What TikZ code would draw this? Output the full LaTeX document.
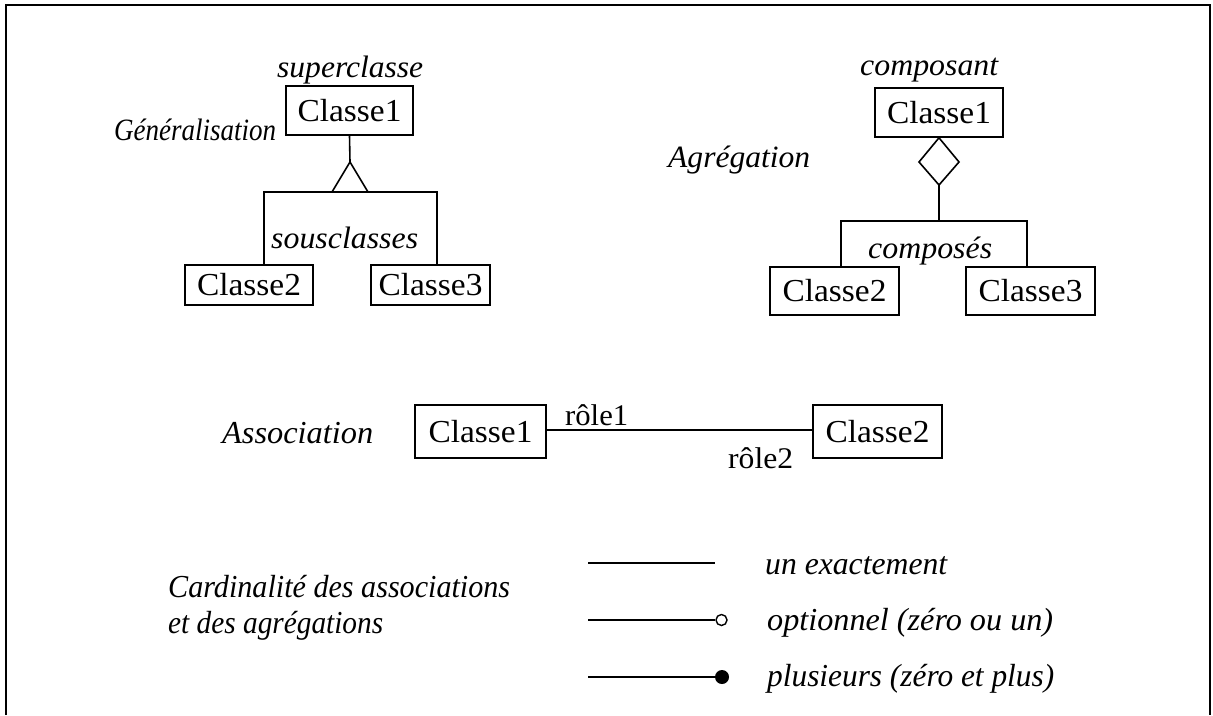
\documentclass[tikz,border=0pt]{standalone}
\usepackage{fontspec}
\setmainfont{Liberation Serif}
\usetikzlibrary{shapes.geometric}
\newcommand{\wid}[2]{\resizebox{#1pt}{\height}{#2}}
\begin{document}
\begin{tikzpicture}[x=1pt,y=-1pt,
  cls/.style={draw,line width=1.6pt,rectangle,inner sep=0pt,font=\fontsize{32}{36}\selectfont},
  lbl/.style={inner sep=0pt,font=\fontsize{31}{36}\selectfont\itshape},
  big/.style={inner sep=0pt,font=\fontsize{32}{36}\selectfont\itshape},
  up/.style={inner sep=0pt,font=\fontsize{30}{36}\selectfont},
  conn/.style={line width=1.6pt}]
\useasboundingbox (0,0) rectangle (1213,715);
\draw[line width=2.6pt] (6,715) -- (6,5) -- (1210,5) -- (1210,715);

% Generalisation
\node[cls,minimum width=127pt,minimum height=49pt] (g1) at (349.5,110.5) {\wid{104}{Classe1}};
\node[cls,minimum width=128pt,minimum height=40pt] (g2) at (249,285) {\wid{104}{Classe2}};
\node[cls,minimum width=119pt,minimum height=40pt] (g3) at (430.5,285) {\wid{104}{Classe3}};
\coordinate (gapex) at (350,162);
\coordinate (gbase) at (350,192);
\draw[conn] (g1.south) -- (gapex);
\draw[conn] (gapex) -- (332,192) -- (368,192) -- cycle;
\draw[conn] (gbase) -| (g2.north -| 264,0);
\draw[conn] (gbase) -| (g3.north -| 437,0);
\node[lbl,anchor=base west] (sup) at (277,77) {\wid{146}{superclasse}};
\node[lbl,anchor=base west] (gen) at (114,140) {\wid{162}{Généralisation}};
\node[lbl,anchor=base west] (sous) at (271,248) {\wid{147}{sousclasses}};

% Aggregation
\node[cls,minimum width=128pt,minimum height=49pt] (a1) at (939,112.5) {\wid{104}{Classe1}};
\node[cls,minimum width=129pt,minimum height=48pt] (a2) at (834.5,291) {\wid{104}{Classe2}};
\node[cls,minimum width=129pt,minimum height=48pt] (a3) at (1030.5,291) {\wid{104}{Classe3}};
\coordinate (dbot) at (939,185);
\coordinate (abar) at (939,221);
\draw[conn] (a1.south) -- (959,162) -- (dbot) -- (919,162) -- cycle;
\draw[conn] (dbot) -- (abar);
\draw[conn] (abar) -| (a2.north -| 841,0);
\draw[conn] (abar) -| (a3.north -| 1027,0);
\node[lbl,anchor=base west] (comp) at (860,75) {\wid{138}{composant}};
\node[lbl,anchor=base west] (agr) at (668,167) {\wid{142}{Agrégation}};
\node[lbl,anchor=base west] (comps) at (868,258) {\wid{124}{composés}};

% Association
\node[cls,minimum width=131pt,minimum height=53pt] (c1) at (480.5,431.5) {\wid{104}{Classe1}};
\node[cls,minimum width=129pt,minimum height=53pt] (c2) at (877.5,431.5) {\wid{104}{Classe2}};
\draw[conn] (c1.east |- 0,430) -- (c2.west |- 0,430);
\node[up,anchor=base west] (r1) at (565,425) {\wid{63}{rôle1}};
\node[up,anchor=base west] (r2) at (728,468) {\wid{65}{rôle2}};
\node[big,anchor=base west] (assoc) at (222,443) {\wid{151}{Association}};

% Cardinality legend
\node[big,anchor=base west] (card1) at (168,597) {\wid{342}{Cardinalité des associations}};
\node[big,anchor=base west] (card2) at (168,633) {\wid{215}{et des agrégations}};
\coordinate (l1a) at (588,563); \coordinate (l1b) at (715,563);
\coordinate (l2a) at (588,620); \coordinate (l2b) at (715,620);
\coordinate (l3a) at (588,677); \coordinate (l3b) at (716,677);
\draw[conn] (l1a) -- (l1b);
\draw[conn] (l2a) -- (l2b);
\draw[line width=1.4pt] (721.5,620) circle (5.5pt);
\draw[conn] (l3a) -- (l3b);
\fill (722,677) circle (7pt);
\node[big,anchor=base west] (t1) at (765,574) {\wid{182}{un exactement}};
\node[big,anchor=base west] (t2) at (767,630) {\wid{286}{optionnel (zéro ou un)}};
\node[big,anchor=base west] (t3) at (767,686) {\wid{287}{plusieurs (zéro et plus)}};
\end{tikzpicture}
\end{document}
